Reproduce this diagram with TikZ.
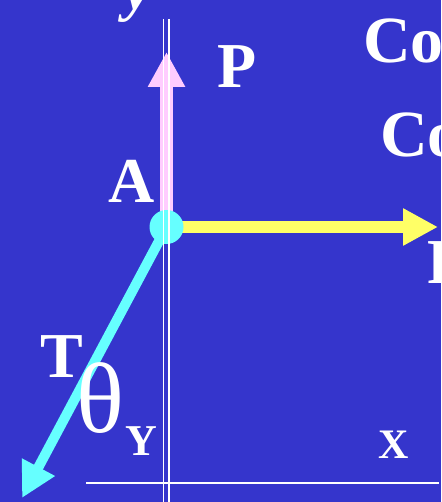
\documentclass[tikz,border=0pt]{standalone}
\usepackage{fontspec}
\setmainfont{Liberation Serif}
\usetikzlibrary{arrows.meta}
\definecolor{bgblue}{HTML}{3535CC}
\definecolor{pcol}{HTML}{FFCCFF}
\definecolor{fcol}{HTML}{FFFF66}
\definecolor{tcol}{HTML}{66FFFF}

\begin{document}
\begin{tikzpicture}[x=1pt,y=-1pt, >={Triangle[length=35pt,width=35pt]},
 force/.style={->,line width=#1},
 dot/.style={circle,fill=tcol,minimum size=34pt,inner sep=0pt},
 lbl/.style={text=white,inner sep=0pt,anchor=base west,font=\fontsize{64}{64}\selectfont\bfseries},
 axis/.style={draw=white,line width=1.5pt}]
\useasboundingbox (0,0) rectangle (441,502);
\fill[bgblue] (0,0) rectangle (441,502);
\clip (0,0) rectangle (441,502);
% point and force tips
\coordinate (A) at (166.5,227);
\coordinate (Ptip) at (166.5,52);
\coordinate (Ftip) at (438,227);
\coordinate (Ttip) at (22,498);
\draw[force=13pt,pcol] (A)--(Ptip);
\draw[force=11pt,fcol] (A)--(Ftip);
\draw[force=10pt,tcol] (A)--(Ttip);
\node[dot] (Adot) at (A) {};
% axes
\coordinate (ytop) at (166.3,19);
\coordinate (ybot) at (166.3,502);
\coordinate (xl) at (86,483);
\coordinate (xr) at (439,483);
\foreach \d in {-2.8,2.7} \draw[axis] ([xshift=\d pt]ytop)--([xshift=\d pt]ybot);
\draw[axis] (xl)--(xr);
% labels
\node[lbl,font=\fontsize{60}{60}\selectfont\bfseries\itshape] (ylab) at (124,10) {y};
\node[lbl] (Plab) at (217,88) {P};
\node[lbl,font=\fontsize{66}{66}\selectfont\bfseries] (cos1) at (363,63) {Cos};
\node[lbl,font=\fontsize{66}{66}\selectfont\bfseries] (cos2) at (380,157) {Co};
\node[lbl] (Alab) at (108,203) {A};
\node[lbl] (Flab) at (427,283) {F};
\node[lbl] (Tlab) at (40,377) {T};
\node[lbl,font=\fontsize{100}{100}\selectfont] (theta) at (76,432) {θ};
\node[lbl,font=\fontsize{44}{44}\selectfont\bfseries] (Ysub) at (125,455) {Y};
\node[lbl,font=\fontsize{42}{42}\selectfont\bfseries] (Xlab) at (378,458) {X};
\end{tikzpicture}
\end{document}
